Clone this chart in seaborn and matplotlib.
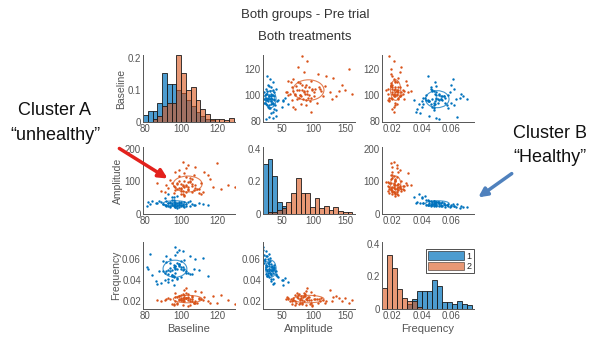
import matplotlib
matplotlib.use('Agg')
import matplotlib.pyplot as plt
from matplotlib.patches import Ellipse, Patch, FancyArrowPatch
import seaborn as sns
import numpy as np
import pandas as pd

variables = ['Baseline', 'Amplitude', 'Frequency']
group_names = ['1', '2']

# group 1 (blue cluster, "healthy")
base_1 = [97, 95, 99, 93, 101, 96, 90, 98, 104, 94, 88, 100, 97, 92, 106, 95, 99, 86, 102, 96,
          91, 108, 97, 94, 100, 83, 98, 103, 95, 92, 110, 97, 89, 101, 96, 93, 99, 105, 81, 94,
          98, 100, 91, 112, 96, 97, 87, 102, 95, 99, 93, 107, 84, 98, 96, 101, 90, 97, 115, 94,
          100, 92, 98, 95, 103, 82, 97, 99, 93, 105]
amp_1 = [30, 28, 33, 35, 27, 38, 31, 25, 36, 22, 40, 29, 34, 26, 32, 42, 20, 33, 37, 24,
         50, 28, 31, 36, 23, 30, 55, 26, 33, 29, 35, 21, 38, 32, 27, 60, 30, 40, 25, 34,
         19, 36, 28, 31, 44, 26, 35, 22, 32, 38, 24, 29, 41, 33, 52, 25, 30, 37, 27, 23,
         34, 39, 28, 52, 31, 36, 20, 29, 33, 25]
freq_1 = [0.050, 0.045, 0.055, 0.041, 0.049, 0.052, 0.058, 0.050, 0.047, 0.056, 0.048, 0.043,
          0.053, 0.062, 0.046, 0.044, 0.068, 0.039, 0.050, 0.054, 0.040, 0.060, 0.047, 0.051,
          0.058, 0.064, 0.042, 0.048, 0.045, 0.057, 0.049, 0.063, 0.037, 0.052, 0.044, 0.038,
          0.055, 0.046, 0.052, 0.048, 0.066, 0.050, 0.047, 0.061, 0.043, 0.053, 0.036, 0.059,
          0.049, 0.054, 0.046, 0.050, 0.045, 0.041, 0.035, 0.067, 0.048, 0.051, 0.044, 0.060,
          0.052, 0.048, 0.056, 0.040, 0.047, 0.050, 0.071, 0.053, 0.049, 0.062]

# group 2 (orange cluster, "unhealthy")
base_2 = [103, 100, 106, 101, 108, 98, 104, 110, 102, 96, 105, 99, 112, 103, 94, 107, 101, 115, 100, 104,
          97, 109, 102, 92, 106, 100, 118, 103, 98, 105, 89, 111, 102, 99, 108, 104, 96, 122, 101, 106,
          100, 113, 95, 103, 107, 97, 126, 102, 99, 110, 105, 93, 101, 104, 116, 98, 102, 108, 100, 130,
          103, 91, 106, 99, 120, 104, 97, 101, 87, 111]
amp_2 = [85, 78, 92, 70, 88, 95, 82, 75, 100, 65, 110, 80, 68, 90, 105, 72, 86, 120, 60, 98,
         83, 78, 125, 88, 66, 93, 84, 140, 76, 102, 70, 95, 58, 115, 81, 150, 87, 75, 62, 108,
         79, 130, 94, 68, 118, 73, 90, 84, 135, 64, 97, 80, 160, 77, 106, 91, 56, 145, 71, 82,
         112, 67, 86, 100, 155, 74, 128, 89, 96, 60]
freq_2 = [0.028, 0.022, 0.024, 0.017, 0.030, 0.019, 0.021, 0.023, 0.026, 0.018,
          0.020, 0.025, 0.021, 0.033, 0.022, 0.019, 0.027, 0.020, 0.023, 0.016, 0.024, 0.019,
          0.031, 0.022, 0.020, 0.021, 0.025, 0.023, 0.018, 0.022, 0.020, 0.029, 0.024, 0.021,
          0.019, 0.023, 0.017, 0.026, 0.020, 0.022, 0.021, 0.024, 0.018, 0.023, 0.019, 0.028,
          0.021, 0.020, 0.025, 0.022, 0.017, 0.023, 0.021, 0.027, 0.019, 0.024, 0.022, 0.020,
          0.026, 0.018, 0.023, 0.021, 0.025, 0.022, 0.019, 0.024, 0.020, 0.023, 0.021, 0.022]

# histogram bar heights (probability per bin)
base_bins = (79, 2.65)
hist_base_1 = [0.022, 0.033, 0.033, 0.06, 0.155, 0.12, 0.12, 0.10, 0.09, 0.07, 0.05, 0.03,
               0.02, 0.01, 0.005, 0, 0, 0, 0]
hist_base_2 = [0, 0, 0.01, 0.02, 0.05, 0.06, 0.06, 0.21, 0.155, 0.1, 0.11, 0.07, 0.04, 0.025,
               0.01, 0.01, 0.01, 0.005, 0.012]
amp_bins = (20, 7.4)
hist_amp_1 = [0.306, 0.335, 0.235, 0.075, 0.05, 0, 0, 0, 0, 0, 0, 0, 0, 0, 0, 0, 0, 0, 0]
hist_amp_2 = [0, 0.01, 0.01, 0.025, 0.035, 0.075, 0.13, 0.22, 0.13, 0.13, 0.045, 0.1, 0.035,
              0.05, 0.025, 0.045, 0.02, 0.01, 0.01]
freq_bins = (0.013, 0.0034)
hist_freq_1 = [0, 0, 0, 0, 0, 0.03, 0.06, 0.11, 0.11, 0.11, 0.175, 0.14, 0.043, 0.043, 0.033,
               0.05, 0.033, 0.025]
hist_freq_2 = [0.13, 0.33, 0.25, 0.12, 0.07, 0.05, 0.05, 0.012, 0, 0, 0, 0, 0, 0, 0, 0, 0, 0]

df = pd.DataFrame({
    'Baseline': base_1 + base_2,
    'Amplitude': amp_1 + amp_2,
    'Frequency': freq_1 + freq_2,
    'group': ['1'] * len(base_1) + ['2'] * len(base_2),
})
hists = {
    'Baseline': (base_bins, [hist_base_1, hist_base_2]),
    'Amplitude': (amp_bins, [hist_amp_1, hist_amp_2]),
    'Frequency': (freq_bins, [hist_freq_1, hist_freq_2]),
}

colors = {'1': '#0072BD', '2': '#D95319'}
hist_alpha = {'1': 0.7, '2': 0.6}
xlims = {'Baseline': (79, 130), 'Amplitude': (20, 165), 'Frequency': (0.013, 0.0755)}
ylims = {'Baseline': (79, 131), 'Amplitude': (0, 205), 'Frequency': (0.013, 0.0755)}
xticks = {'Baseline': [80, 100, 120], 'Amplitude': [50, 100, 150], 'Frequency': [0.02, 0.04, 0.06]}
yticks = {'Baseline': [80, 100, 120], 'Amplitude': [0, 100, 200], 'Frequency': [0.02, 0.04, 0.06]}
hist_ylims = {'Baseline': (0, 0.21), 'Amplitude': (0, 0.41), 'Frequency': (0, 0.41)}
hist_yticks = {'Baseline': [0, 0.1, 0.2], 'Amplitude': [0, 0.2, 0.4], 'Frequency': [0, 0.2, 0.4]}

sns.set_style('white')
plt.rcParams['font.family'] = ['Liberation Sans', 'DejaVu Sans']
text_grey = '#555555'

W, H = 593, 341
fig = plt.figure(figsize=(W / 100, H / 100), dpi=100)
col_left = [143, 263, 382]
row_top = [55, 147, 242]
aw, ah = 92, 67


def fmt(v):
    return '{:g}'.format(v)


for i, yvar in enumerate(variables):
    for j, xvar in enumerate(variables):
        ax = fig.add_axes([col_left[j] / W, 1 - (row_top[i] + ah) / H, aw / W, ah / H])
        if i == j:
            (start, width), heights = hists[xvar]
            for g, h in zip(group_names, heights):
                edges = start + width * np.arange(len(h) + 1)
                hd = pd.DataFrame({'x': (edges[:-1] + edges[1:]) / 2, 'w': h})
                sns.histplot(data=hd, x='x', weights='w', bins=list(edges), ax=ax,
                             color=colors[g], alpha=hist_alpha[g], edgecolor='#1a1a1a',
                             linewidth=0.6)
            ax.set_ylim(hist_ylims[xvar])
            ax.set_yticks(hist_yticks[xvar])
            ax.set_yticklabels([fmt(v) for v in hist_yticks[xvar]])
        else:
            for g in group_names:
                sub = df[df['group'] == g]
                sns.scatterplot(data=sub, x=xvar, y=yvar, ax=ax, color=colors[g], s=3,
                                linewidth=0, legend=False)
                ax.add_patch(Ellipse((sub[xvar].mean(), sub[yvar].mean()),
                                     2 * sub[xvar].std(), 2 * sub[yvar].std(),
                                     fill=False, edgecolor=colors[g], lw=0.8, alpha=0.75))
            ax.set_ylim(ylims[yvar])
            ax.set_yticks(yticks[yvar])
            ax.set_yticklabels([fmt(v) for v in yticks[yvar]])
        ax.set_xlim(xlims[xvar])
        ax.set_xticks(xticks[xvar])
        ax.set_xticklabels([fmt(v) for v in xticks[xvar]])
        ax.set_xlabel(xvar if i == 2 else '', fontsize=8, color=text_grey, labelpad=2)
        ax.set_ylabel(yvar if j == 0 else '', fontsize=7.5, color=text_grey, labelpad=1)
        ax.tick_params(direction='in', length=2, width=0.6, labelsize=7,
                       colors=text_grey, pad=1.5)
        for s in ['top', 'right']:
            ax.spines[s].set_visible(False)
        for s in ['left', 'bottom']:
            ax.spines[s].set_color('#555555')
            ax.spines[s].set_linewidth(0.7)
        if i == 2 and j == 2:
            handles = [Patch(facecolor=colors[g], edgecolor='#1a1a1a', lw=0.6, alpha=hist_alpha[g])
                       for g in group_names]
            leg = ax.legend(handles, group_names, loc='upper left', bbox_to_anchor=(0.43, 0.96),
                            fontsize=6.5, handlelength=4.0, handleheight=1.0, labelspacing=0.15,
                            borderpad=0.25, handletextpad=0.2, fancybox=False, framealpha=1)
            leg.get_frame().set_edgecolor('#333333')
            leg.get_frame().set_linewidth(0.6)

fig.text(305 / W, 1 - 15 / H, 'Both groups - Pre trial', ha='center', va='center',
         fontsize=9.5, color='#333333')
fig.text(305 / W, 1 - 37 / H, 'Both treatments', ha='center', va='center',
         fontsize=9.5, color='#333333')
fig.text(55 / W, 1 - 111 / H, 'Cluster A', ha='center', va='center', fontsize=13, color='#111111')
fig.text(55 / W, 1 - 136 / H, '\u201cunhealthy\u201d', ha='center', va='center', fontsize=13,
         color='#111111')
fig.text(550 / W, 1 - 133 / H, 'Cluster B', ha='center', va='center', fontsize=13, color='#111111')
fig.text(550 / W, 1 - 157 / H, '\u201cHealthy\u201d', ha='center', va='center', fontsize=13,
         color='#111111')

fig.add_artist(FancyArrowPatch((117 / W, 1 - 147 / H), (170 / W, 1 - 180 / H),
                               transform=fig.transFigure, arrowstyle='-|>', mutation_scale=13,
                               lw=2.5, color='#e3211c'))
fig.add_artist(FancyArrowPatch((514 / W, 1 - 172 / H), (476 / W, 1 - 199 / H),
                               transform=fig.transFigure, arrowstyle='-|>', mutation_scale=13,
                               lw=2.5, color='#4f81bd'))

fig.savefig('out.png', dpi=100)
